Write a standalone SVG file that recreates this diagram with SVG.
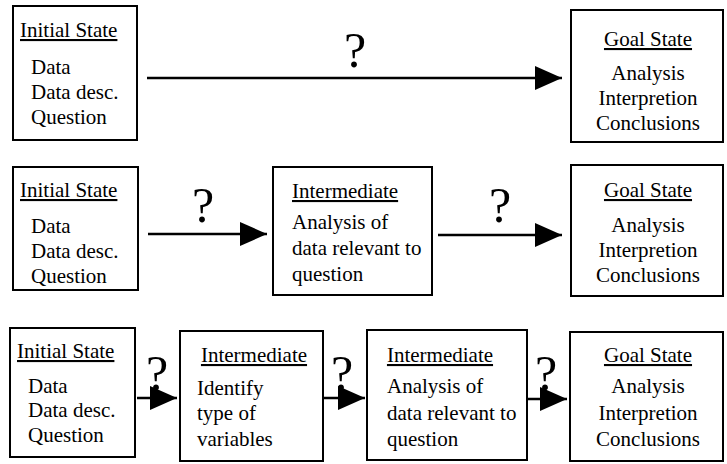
<svg xmlns="http://www.w3.org/2000/svg" width="727" height="464" viewBox="0 0 727 464">
<style>
.box{fill:#fff;stroke:#000;stroke-width:2}
text{font-family:"Liberation Serif","Times New Roman",serif;font-size:21px;fill:#000}
.h{text-decoration:underline}
.c{text-anchor:middle}
.q{font-size:50px;text-anchor:middle}
.ln{stroke:#000;stroke-width:2.5;fill:none}
</style>
<defs>
<marker id="ah" markerUnits="userSpaceOnUse" markerWidth="28" markerHeight="26" refX="27" refY="12" orient="auto">
<path d="M0,0 L27,12 L0,24 Z" fill="#000"/>
</marker>
</defs>
<rect width="727" height="464" fill="#fff"/>

<g id="connectors">
<line class="ln" x1="147" y1="78" x2="562" y2="78" marker-end="url(#ah)"/>
<line class="ln" x1="148" y1="234" x2="267" y2="234" marker-end="url(#ah)"/>
<line class="ln" x1="438" y1="235" x2="562" y2="235" marker-end="url(#ah)"/>
<line class="ln" x1="137" y1="398" x2="177" y2="398" marker-end="url(#ah)"/>
<line class="ln" x1="323" y1="398" x2="365" y2="398" marker-end="url(#ah)"/>
<line class="ln" x1="527" y1="399" x2="567" y2="399" marker-end="url(#ah)"/>
<text class="q" x="355" y="67">?</text>
<text class="q" x="203" y="222">?</text>
<text class="q" x="500" y="222">?</text>
<text class="q" x="157" y="390">?</text>
<text class="q" x="342" y="390">?</text>
<text class="q" x="546" y="390">?</text>
</g>

<g id="init1">
<rect class="box" x="13" y="6" width="124" height="134"/>
<text class="h" x="20" y="37">Initial State</text>
<text x="31" y="74">Data</text>
<text x="31" y="99">Data desc.</text>
<text x="31" y="124">Question</text>
</g>
<g id="goal1">
<rect class="box" x="571" y="10" width="152" height="132"/>
<text class="h c" x="648" y="46">Goal State</text>
<text class="c" x="648" y="80">Analysis</text>
<text class="c" x="648" y="105">Interpretion</text>
<text class="c" x="648" y="130">Conclusions</text>
</g>

<g id="init2">
<rect class="box" x="13" y="167" width="125" height="123"/>
<text class="h" x="20" y="197">Initial State</text>
<text x="31" y="233">Data</text>
<text x="31" y="258">Data desc.</text>
<text x="31" y="283">Question</text>
</g>
<g id="inter2">
<rect class="box" x="273" y="167" width="159" height="128"/>
<text class="h" x="292" y="198">Intermediate</text>
<text x="292" y="229">Analysis of</text>
<text x="292" y="255">data relevant to</text>
<text x="292" y="281">question</text>
</g>
<g id="goal2">
<rect class="box" x="571" y="165" width="152" height="131"/>
<text class="h c" x="648" y="197">Goal State</text>
<text class="c" x="648" y="232">Analysis</text>
<text class="c" x="648" y="257">Interpretion</text>
<text class="c" x="648" y="282">Conclusions</text>
</g>

<g id="init3">
<rect class="box" x="10" y="328" width="125" height="129"/>
<text class="h" x="17" y="358">Initial State</text>
<text x="28" y="393">Data</text>
<text x="28" y="417">Data desc.</text>
<text x="28" y="442">Question</text>
</g>
<g id="inter3a">
<rect class="box" x="180" y="331" width="143" height="130"/>
<text class="h c" x="254" y="362">Intermediate</text>
<text x="197" y="395">Identify</text>
<text x="197" y="420">type of</text>
<text x="197" y="446">variables</text>
</g>
<g id="inter3b">
<rect class="box" x="367" y="330" width="160" height="130"/>
<text class="h c" x="440" y="362">Intermediate</text>
<text x="387" y="393">Analysis of</text>
<text x="387" y="420">data relevant to</text>
<text x="387" y="446">question</text>
</g>
<g id="goal3">
<rect class="box" x="570" y="332" width="153" height="129"/>
<text class="h c" x="648" y="362">Goal State</text>
<text class="c" x="648" y="393">Analysis</text>
<text class="c" x="648" y="420">Interpretion</text>
<text class="c" x="648" y="446">Conclusions</text>
</g>
</svg>
